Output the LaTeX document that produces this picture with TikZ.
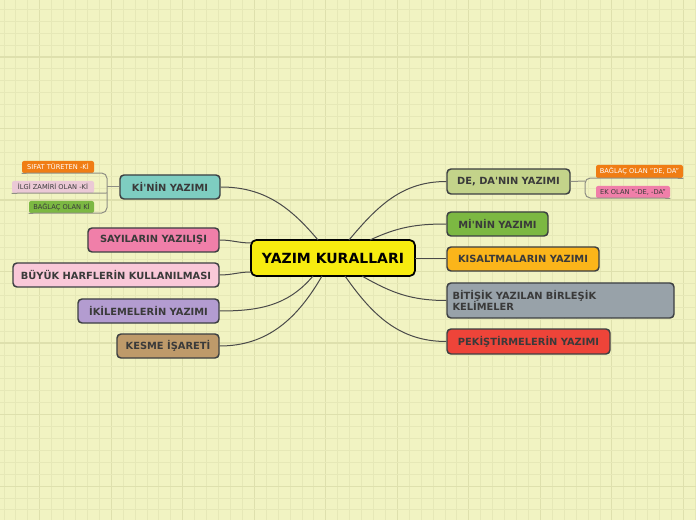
\documentclass[tikz,border=0pt]{standalone}
\usepackage{fontspec}
\setmainfont{DejaVu Sans}
\definecolor{bgc}{HTML}{F1F3C2}
\definecolor{gminor}{HTML}{E6E8B7}
\definecolor{gmajor}{HTML}{DEE0AD}
\definecolor{edgec}{HTML}{3C3F42}
\definecolor{txtc}{HTML}{3A3A3A}
\definecolor{linec}{HTML}{4A4A4A}
\definecolor{subline}{HTML}{8F8F84}
\definecolor{cyel}{HTML}{F7EC0F}
\definecolor{cteal}{HTML}{7ECDC1}
\definecolor{cpink}{HTML}{F07FA9}
\definecolor{clpink}{HTML}{F9C8D8}
\definecolor{cpurp}{HTML}{B39CD0}
\definecolor{ctan}{HTML}{BE9A6A}
\definecolor{colive}{HTML}{C3D38A}
\definecolor{cgreen}{HTML}{7CB842}
\definecolor{corng}{HTML}{FBB51A}
\definecolor{cgray}{HTML}{98A2A9}
\definecolor{cred}{HTML}{EE4439}
\definecolor{cor2}{HTML}{F07D14}
\definecolor{cilgi}{HTML}{EBC9D6}
\tikzset{
  branch/.style={draw=edgec, line width=1.1pt, rounded corners=3pt, text=txtc,
    font=\bfseries\fontsize{7.4}{8.6}\selectfont, inner sep=0pt, align=center},
  subbox/.style={rounded corners=1.5pt, inner sep=0pt, text=txtc,
    font=\fontsize{5}{6}\selectfont},
  conn/.style={draw=linec, line width=0.75pt},
  subconn/.style={draw=subline, line width=0.75pt},
}
\begin{document}
\begin{tikzpicture}[x=0.75pt,y=-0.75pt]
\fill[bgc] (0,0) rectangle (696,520);
\useasboundingbox (0,0) rectangle (696,520);
\foreach \i in {0,...,58}{
  \pgfmathtruncatemacro{\m}{mod(\i,6)}
  \ifnum\m=3 \draw[gmajor,line width=0.85pt] (4+\i*11.92,0) -- (4+\i*11.92,520);
  \else \draw[gminor,line width=0.7pt] (4+\i*11.92,0) -- (4+\i*11.92,520); \fi
}
\foreach \j in {0,...,43}{
  \pgfmathtruncatemacro{\m}{mod(\j,6)}
  \ifnum\m=4 \draw[gmajor,line width=0.85pt] (0,9.3+\j*11.92) -- (696,9.3+\j*11.92);
  \else \draw[gminor,line width=0.7pt] (0,9.3+\j*11.92) -- (696,9.3+\j*11.92); \fi
}

% central
\node[draw=black, line width=1.3pt, rounded corners=4pt, fill=cyel, minimum width=123pt, minimum height=27pt,
  font=\bfseries\fontsize{10.5}{12}\selectfont, inner sep=0pt] (root) at (333,258) {YAZIM KURALLARI};

% left branches
\node[branch, fill=cteal, minimum width=75pt, minimum height=18pt] (kin) at (170,187) {Kİ\textquotesingle NİN YAZIMI};
\node[branch, fill=cpink, minimum width=98.25pt, minimum height=18pt] (say) at (153.5,240) {SAYILARIN YAZILIŞI};
\node[branch, fill=clpink, minimum width=154.5pt, minimum height=18pt] (buy) at (116,275) {BÜYÜK HARFLERİN KULLANILMASI};
\node[branch, fill=cpurp, minimum width=105.75pt, minimum height=18pt] (iki) at (148.5,311) {İKİLEMELERİN YAZIMI};
\node[branch, fill=ctan, minimum width=76.5pt, minimum height=18pt] (kes) at (168,346) {KESME İŞARETİ};

% right branches
\node[branch, fill=colive, minimum width=92.25pt, minimum height=18.75pt] (dede) at (508.5,181.5) {DE, DA\textquotesingle NIN YAZIMI};
\node[branch, fill=cgreen, minimum width=75.75pt, minimum height=18pt] (mi) at (497.5,224) {Mİ\textquotesingle NİN YAZIMI};
\node[branch, fill=corng, minimum width=114pt, minimum height=18pt] (kis) at (523,259) {KISALTMALARIN YAZIMI};
\node[branch, fill=cgray, minimum width=170.25pt, minimum height=26.25pt, text width=162pt, align=left] (bit) at (560.5,300.5) {BİTİŞİK YAZILAN BİRLEŞİK\\KELİMELER};
\node[branch, fill=cred, minimum width=122.25pt, minimum height=18.75pt] (pek) at (528.5,341.5) {PEKİŞTİRMELERİN YAZIMI};

% sub nodes left
\node[subbox, fill=cor2, text=white, minimum width=54pt, minimum height=9pt] (sif) at (58,167) {SIFAT TÜRETEN -Kİ};
\node[subbox, fill=cilgi, minimum width=61.5pt, minimum height=9pt] (ilg) at (53,187) {İLGİ ZAMİRİ OLAN -Kİ};
\node[subbox, fill=cgreen, minimum width=48.75pt, minimum height=9pt] (bag) at (61.5,207) {BAĞLAÇ OLAN Kİ};
% sub nodes right
\node[subbox, fill=cor2, text=white, minimum width=65.25pt, minimum height=9.75pt] (bde) at (639.5,171.5) {BAĞLAÇ OLAN "DE, DA"};
\node[subbox, fill=cpink, minimum width=55.5pt, minimum height=9pt] (ek) at (633,192) {EK OLAN "-DE, -DA"};

% brackets
\coordinate (lb) at (107,187);
\coordinate (lbt) at (107,173);
\coordinate (lbb) at (107,213);
\coordinate (lbm) at (107,193);
\draw[subconn] (kin.west) -- (lb);
\draw[subconn, rounded corners=4pt] (sif.south west) -- (lbt) -- (lbb) -- (bag.south west);
\draw[subconn] (ilg.south west) -- (lbm);
\coordinate (rb) at (585,181);
\coordinate (rbt) at (585,178);
\coordinate (rbb) at (585,198);
\draw[subconn] (dede.east) -- (rb);
\draw[subconn, rounded corners=4pt] (bde.south east) -- (rbt) -- (rbb) -- (ek.south east);

% central connections
\coordinate (c1) at (318,240);
\coordinate (c2) at (251,243);
\coordinate (c3) at (251,272);
\coordinate (c4) at (313,276);
\coordinate (c5) at (322,276);
\coordinate (c6) at (349,240);
\coordinate (c7) at (370,240);
\coordinate (c8) at (415,259);
\coordinate (c9) at (362,276);
\coordinate (c10) at (345,276);
\draw[conn] (kin.east) to[out=0,in=130] (c1);
\draw[conn] (say.east) to[out=0,in=180] (c2);
\draw[conn] (buy.east) to[out=0,in=180] (c3);
\draw[conn] (iki.east) to[out=0,in=-130] (c4);
\draw[conn] (kes.east) to[out=0,in=-120] (c5);
\draw[conn] (dede.west) to[out=180,in=50] (c6);
\draw[conn] (mi.west) to[out=180,in=25] (c7);
\draw[conn] (kis.west) -- (c8);
\draw[conn] (bit.west) to[out=180,in=-30] (c9);
\draw[conn] (pek.west) to[out=180,in=-55] (c10);
\end{tikzpicture}
\end{document}
